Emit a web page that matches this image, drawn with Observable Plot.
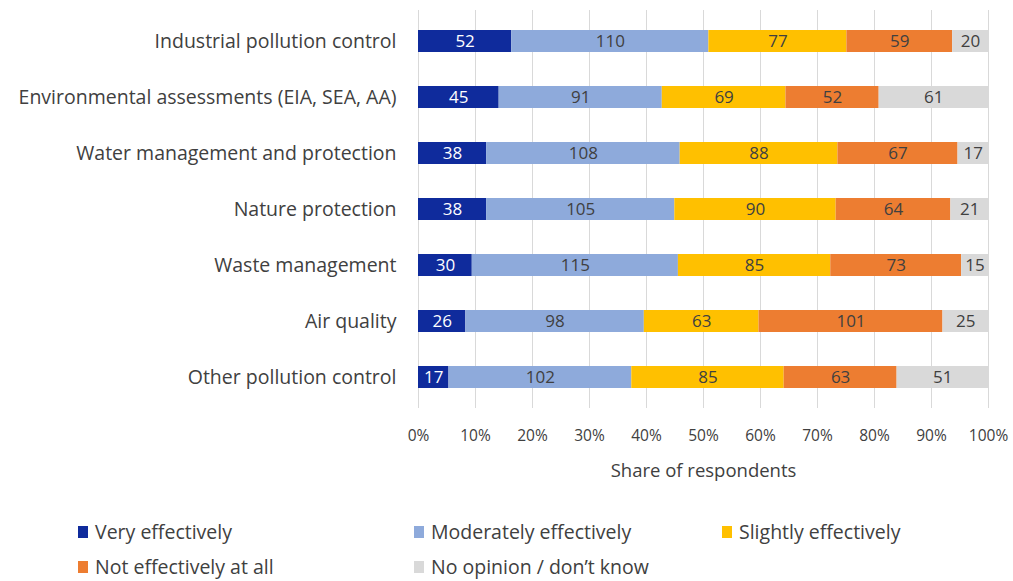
<!DOCTYPE html>
<html>
<head>
<meta charset="utf-8">
<script src="https://cdn.jsdelivr.net/npm/d3@7"></script>
<script src="https://cdn.jsdelivr.net/npm/@observablehq/plot@0.6"></script>
<style>
  html, body { margin: 0; padding: 0; background: #fff; }
  body { width: 1013px; height: 581px; overflow: hidden; font-family: "Open Sans", sans-serif; }
  #legend { position: absolute; left: 0; top: 0; width: 1013px; height: 581px; pointer-events: none; }
  .item { position: absolute; display: flex; align-items: center; font-size: 19.5px; line-height: 22px; color: #404040; white-space: nowrap; }
  .sw { width: 10px; height: 12px; margin-right: 7px; }
</style>
</head>
<body>
<div id="chart"></div>
<div id="legend"></div>
<script>
const categories = [
  "Industrial pollution control",
  "Environmental assessments (EIA, SEA, AA)",
  "Water management and protection",
  "Nature protection",
  "Waste management",
  "Air quality",
  "Other pollution control"
];
const responses = ["Very effectively", "Moderately effectively", "Slightly effectively", "Not effectively at all", "No opinion / don\u2019t know"];
const colors = ["#0f2b9c", "#8eaadb", "#ffc000", "#ed7d31", "#d9d9d9"];
const textColors = ["#ffffff", "#404040", "#404040", "#404040", "#404040"];

const veryEffectively = [52, 45, 38, 38, 30, 26, 17];
const moderatelyEffectively = [110, 91, 108, 105, 115, 98, 102];
const slightlyEffectively = [77, 69, 88, 90, 85, 63, 85];
const notEffectivelyAtAll = [59, 52, 67, 64, 73, 101, 63];
const noOpinion = [20, 61, 17, 21, 15, 25, 51];

const xTicks = [0, 0.1, 0.2, 0.3, 0.4, 0.5, 0.6, 0.7, 0.8, 0.9, 1];

const series = [veryEffectively, moderatelyEffectively, slightlyEffectively, notEffectivelyAtAll, noOpinion];
const data = [];
categories.forEach((c, i) => {
  series.forEach((s, k) => {
    data.push({category: c, response: responses[k], value: s[i], tc: textColors[k]});
  });
});

const plot = Plot.plot({
  width: 1013,
  height: 490,
  marginLeft: 418,
  marginRight: 25,
  marginTop: 10,
  marginBottom: 82,
  style: {fontFamily: "'Open Sans', sans-serif", color: "#404040", background: "#fff"},
  x: {domain: [0, 1], ticks: xTicks, tickFormat: d => Math.round(d * 100) + "%", grid: false, label: null},
  y: {domain: categories, paddingInner: 0.614, paddingOuter: 0.3, label: null},
  color: {domain: responses, range: colors},
  marks: [
    Plot.gridX(xTicks, {stroke: "#d9d9d9", strokeOpacity: 1, strokeWidth: 1}),
    Plot.barX(data, Plot.stackX({x: "value", y: "category", fill: "response", order: responses, offset: "normalize"})),
    Plot.text(data, Plot.stackX({x: "value", y: "category", z: "response", order: responses, offset: "normalize", text: d => String(d.value), fill: "tc", fontSize: 17})),
    Plot.axisX({ticks: xTicks, tickFormat: d => Math.round(d * 100) + "%", tickSize: 0, tickPadding: 21, fontSize: 15.5, label: null}),
    Plot.axisY({tickSize: 0, tickPadding: 22, fontSize: 19.5, label: null}),
    Plot.text(["Share of respondents"], {frameAnchor: "bottom", dy: 68, fontSize: 18.5, fill: "#404040"})
  ]
});
document.getElementById("chart").appendChild(plot);

const legendItems = [
  {k: 0, x: 78, y: 532}, {k: 1, x: 414, y: 532}, {k: 2, x: 722, y: 532},
  {k: 3, x: 78, y: 567}, {k: 4, x: 414, y: 567}
];
const lg = document.getElementById("legend");
legendItems.forEach(it => {
  const d = document.createElement("div");
  d.className = "item";
  d.style.left = it.x + "px";
  d.style.top = (it.y - 11) + "px";
  d.style.height = "22px";
  d.innerHTML = `<span class="sw" style="background:${colors[it.k]}"></span><span>${responses[it.k]}</span>`;
  lg.appendChild(d);
});
</script>
</body>
</html>
